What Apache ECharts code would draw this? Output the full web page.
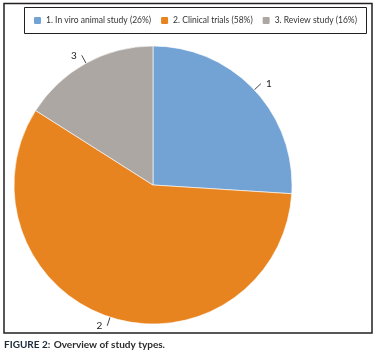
<!DOCTYPE html>
<html>
<head>
<meta charset="utf-8">
<script src="https://cdn.jsdelivr.net/npm/echarts@6/dist/echarts.min.js"></script>
<style>
  html, body { margin: 0; padding: 0; background: #fff; }
  #chart { width: 379px; height: 359px; }
</style>
</head>
<body>
<div id="chart"></div>
<script>
var categories = ['In viro animal study', 'Clinical trials', 'Review study'];
var shares = [26, 58, 16];
var sliceLabels = ['1', '2', '3'];
var colors = ['#72a3d4', '#e8841f', '#aca7a3'];

function showPie() {
    var dom = document.getElementById('chart');
    var myChart = echarts.init(dom);

    var names = categories.map(function (c, i) {
        return (i + 1) + '. ' + c + ' (' + shares[i] + '%)';
    });
    var data = shares.map(function (v, i) {
        return { value: v, name: names[i], itemStyle: { color: colors[i] } };
    });

    var option = {
        animation: false,
        textStyle: { fontFamily: 'Lato' },
        legend: {
            left: 32,
            top: 15,
            width: 345,
            itemWidth: 9,
            itemHeight: 9,
            itemGap: 8,
            padding: 0,
            selectedMode: false,
            textStyle: { fontSize: 8.5, color: '#333', fontFamily: 'Lato', padding: [0, 0, 0, -1] },
            data: names
        },
        graphic: [
            { type: 'rect', shape: { x: 4, y: 3.5, width: 368, height: 329.5 },
              style: { fill: 'none', stroke: '#231f20', lineWidth: 1.5 }, z: -1 },
            { type: 'rect', shape: { x: 24.5, y: 7.5, width: 342, height: 26 },
              style: { fill: 'none', stroke: '#231f20', lineWidth: 1 }, z: -1 },
            { type: 'text', left: 4, top: 339,
              style: {
                  text: '{b|FIGURE 2:} {r|Overview of study types.}',
                  rich: {
                      b: { fontFamily: 'Lato', fontWeight: 'bold', fontSize: 10, fill: '#1c2a3a' },
                      r: { fontFamily: 'Lato', fontWeight: 'bold', fontSize: 10, fill: '#2b2b2b' }
                  }
              } }
        ],
        series: [{
            type: 'pie',
            center: [153, 185],
            radius: 139,
            startAngle: 90,
            clockwise: true,
            itemStyle: { borderColor: '#fff', borderWidth: 0.6 },
            label: {
                show: true,
                position: 'outside',
                fontSize: 10,
                color: '#222',
                fontFamily: 'Lato',
                formatter: function (p) { return sliceLabels[p.dataIndex]; }
            },
            labelLine: {
                show: true,
                length: 9,
                length2: 0,
                lineStyle: { color: '#444', width: 1 }
            },
            emphasis: { disabled: true },
            data: data
        }]
    };

    myChart.setOption(option, true);
    window.addEventListener('resize', function () {
        myChart.resize();
    });
}
showPie();
</script>
</body>
</html>
